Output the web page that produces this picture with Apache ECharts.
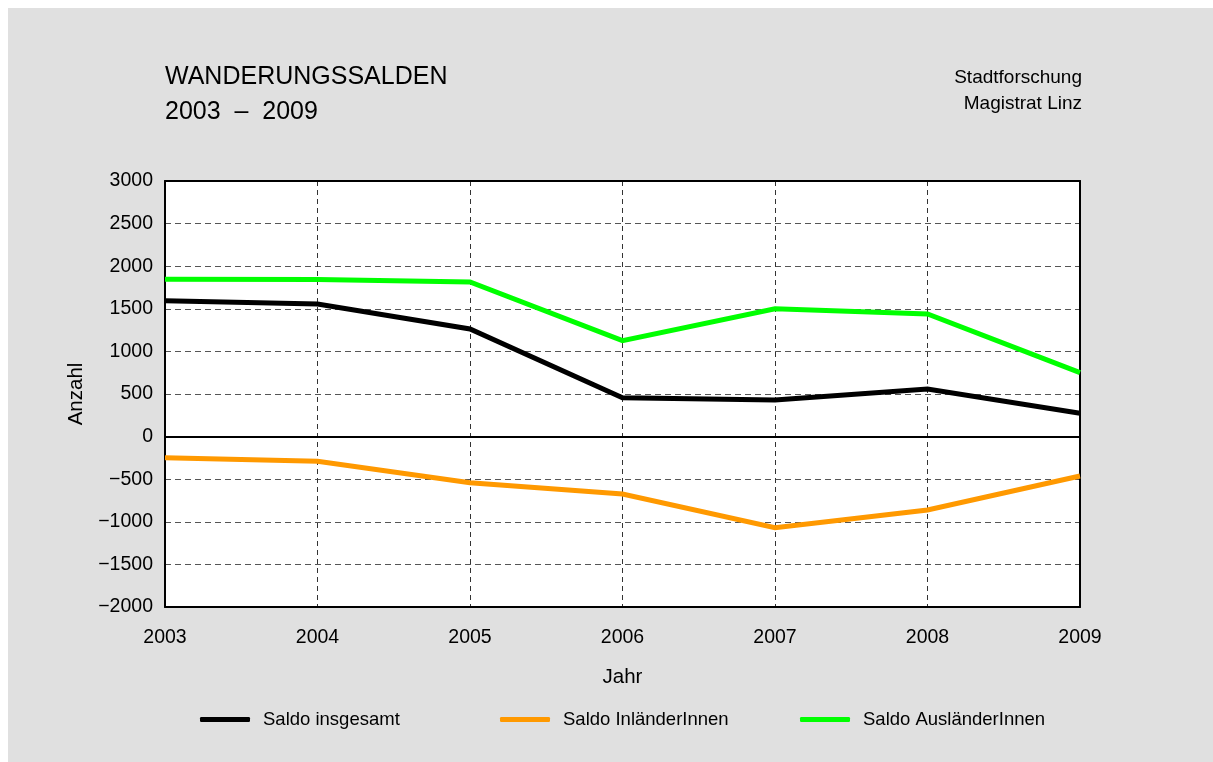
<!DOCTYPE html>
<html>
<head>
<meta charset="utf-8">
<script src="https://cdn.jsdelivr.net/npm/echarts@6/dist/echarts.min.js"></script>
<style>
html,body{margin:0;padding:0;background:#ffffff;}
#wrap{position:absolute;left:8px;top:8px;width:1205px;height:754px;background:#e0e0e0;}
#chart{position:absolute;left:-8px;top:-8px;width:1213px;height:762px;}
</style>
</head>
<body>
<div id="wrap"><div id="chart"></div></div>
<script>
const years = ['2003','2004','2005','2006','2007','2008','2009'];
const saldoInsgesamt = [1595, 1556, 1263, 457, 430, 559, 273];
const saldoInlaender = [-247, -290, -541, -674, -1069, -862, -462];
const saldoAuslaender = [1848, 1845, 1815, 1126, 1500, 1439, 750];
const seriesNames = ['Saldo insgesamt', 'Saldo InländerInnen', 'Saldo AusländerInnen'];
const seriesColors = ['#000000', '#ff9900', '#00ff00'];

const FONT = '"Liberation Sans", Arial, sans-serif';
const chart = echarts.init(document.getElementById('chart'), null, {renderer:'canvas'});
const fmt = v => String(v).replace('-', '\u2212');
const dataSets = [saldoInsgesamt, saldoInlaender, saldoAuslaender];
const legendLefts = [200, 500, 800];

const frameLine = {show: true, onZero: false, lineStyle: {color: '#000', width: 2}};

chart.setOption({
  backgroundColor: 'transparent',
  animation: false,
  textStyle: {fontFamily: FONT},
  title: [
    {text: 'WANDERUNGSSALDEN', left: 160, top: 60, textStyle: {fontFamily: FONT, fontSize: 25, fontWeight: 'normal', color: '#000'}},
    {text: '2003  \u2013  2009', left: 160, top: 95, textStyle: {fontFamily: FONT, fontSize: 25, fontWeight: 'normal', color: '#000'}},
    {text: 'Stadtforschung', right: 126, top: 63, textStyle: {fontFamily: FONT, fontSize: 19, fontWeight: 'normal', color: '#000'}},
    {text: 'Magistrat Linz', right: 126, top: 89, textStyle: {fontFamily: FONT, fontSize: 19, fontWeight: 'normal', color: '#000'}}
  ],
  legend: seriesNames.map((n, i) => ({
    data: [n], left: legendLefts[i] - 5, top: 705, itemWidth: 50, itemHeight: 5, itemGap: 10,
    icon: 'roundRect',
    selectedMode: false,
    textStyle: {fontFamily: FONT, fontSize: 18.5, color: '#000', padding: [0, 0, 0, 8]}
  })),
  grid: {left: 165, right: 133, top: 181, bottom: 155, show: true, backgroundColor: '#ffffff', borderWidth: 0},
  xAxis: [{
    type: 'category', data: years, boundaryGap: false,
    name: 'Jahr', nameLocation: 'middle', nameGap: 60,
    nameTextStyle: {fontFamily: FONT, fontSize: 20.5, color: '#000'},
    axisLine: frameLine, axisTick: {show: false},
    axisLabel: {color: '#000', fontSize: 19.5, fontFamily: FONT, margin: 21},
    splitLine: {show: true, lineStyle: {color: '#333', type: [5, 4], width: 1}}
  }, {
    type: 'category', data: years, boundaryGap: false, position: 'top',
    axisLine: frameLine, axisTick: {show: false}, axisLabel: {show: false}, splitLine: {show: false}
  }],
  yAxis: [{
    type: 'value', min: -2000, max: 3000, interval: 500,
    name: 'Anzahl', nameLocation: 'middle', nameGap: 69, nameRotate: 90,
    nameTextStyle: {fontFamily: FONT, fontSize: 20.5, color: '#000'},
    axisLine: frameLine, axisTick: {show: false},
    axisLabel: {color: '#000', fontSize: 19.5, fontFamily: FONT, margin: 12, formatter: fmt},
    splitLine: {show: true, lineStyle: {color: '#555', type: [6, 4], width: 1}}
  }, {
    type: 'value', min: -2000, max: 3000, interval: 500, position: 'right',
    axisLine: frameLine, axisTick: {show: false}, axisLabel: {show: false}, splitLine: {show: false}
  }],
  series: seriesNames.map((n, i) => ({
    name: n, type: 'line', data: dataSets[i], symbol: 'none',
    lineStyle: {color: seriesColors[i], width: 5, join: 'miter'},
    itemStyle: {color: seriesColors[i]},
    z: 3 + i,
    markLine: i === 0 ? {silent: true, symbol: 'none', label: {show: false},
      lineStyle: {color: '#000', type: 'solid', width: 2}, data: [{yAxis: 0}], z: 2} : undefined
  }))
});
</script>
</body>
</html>
